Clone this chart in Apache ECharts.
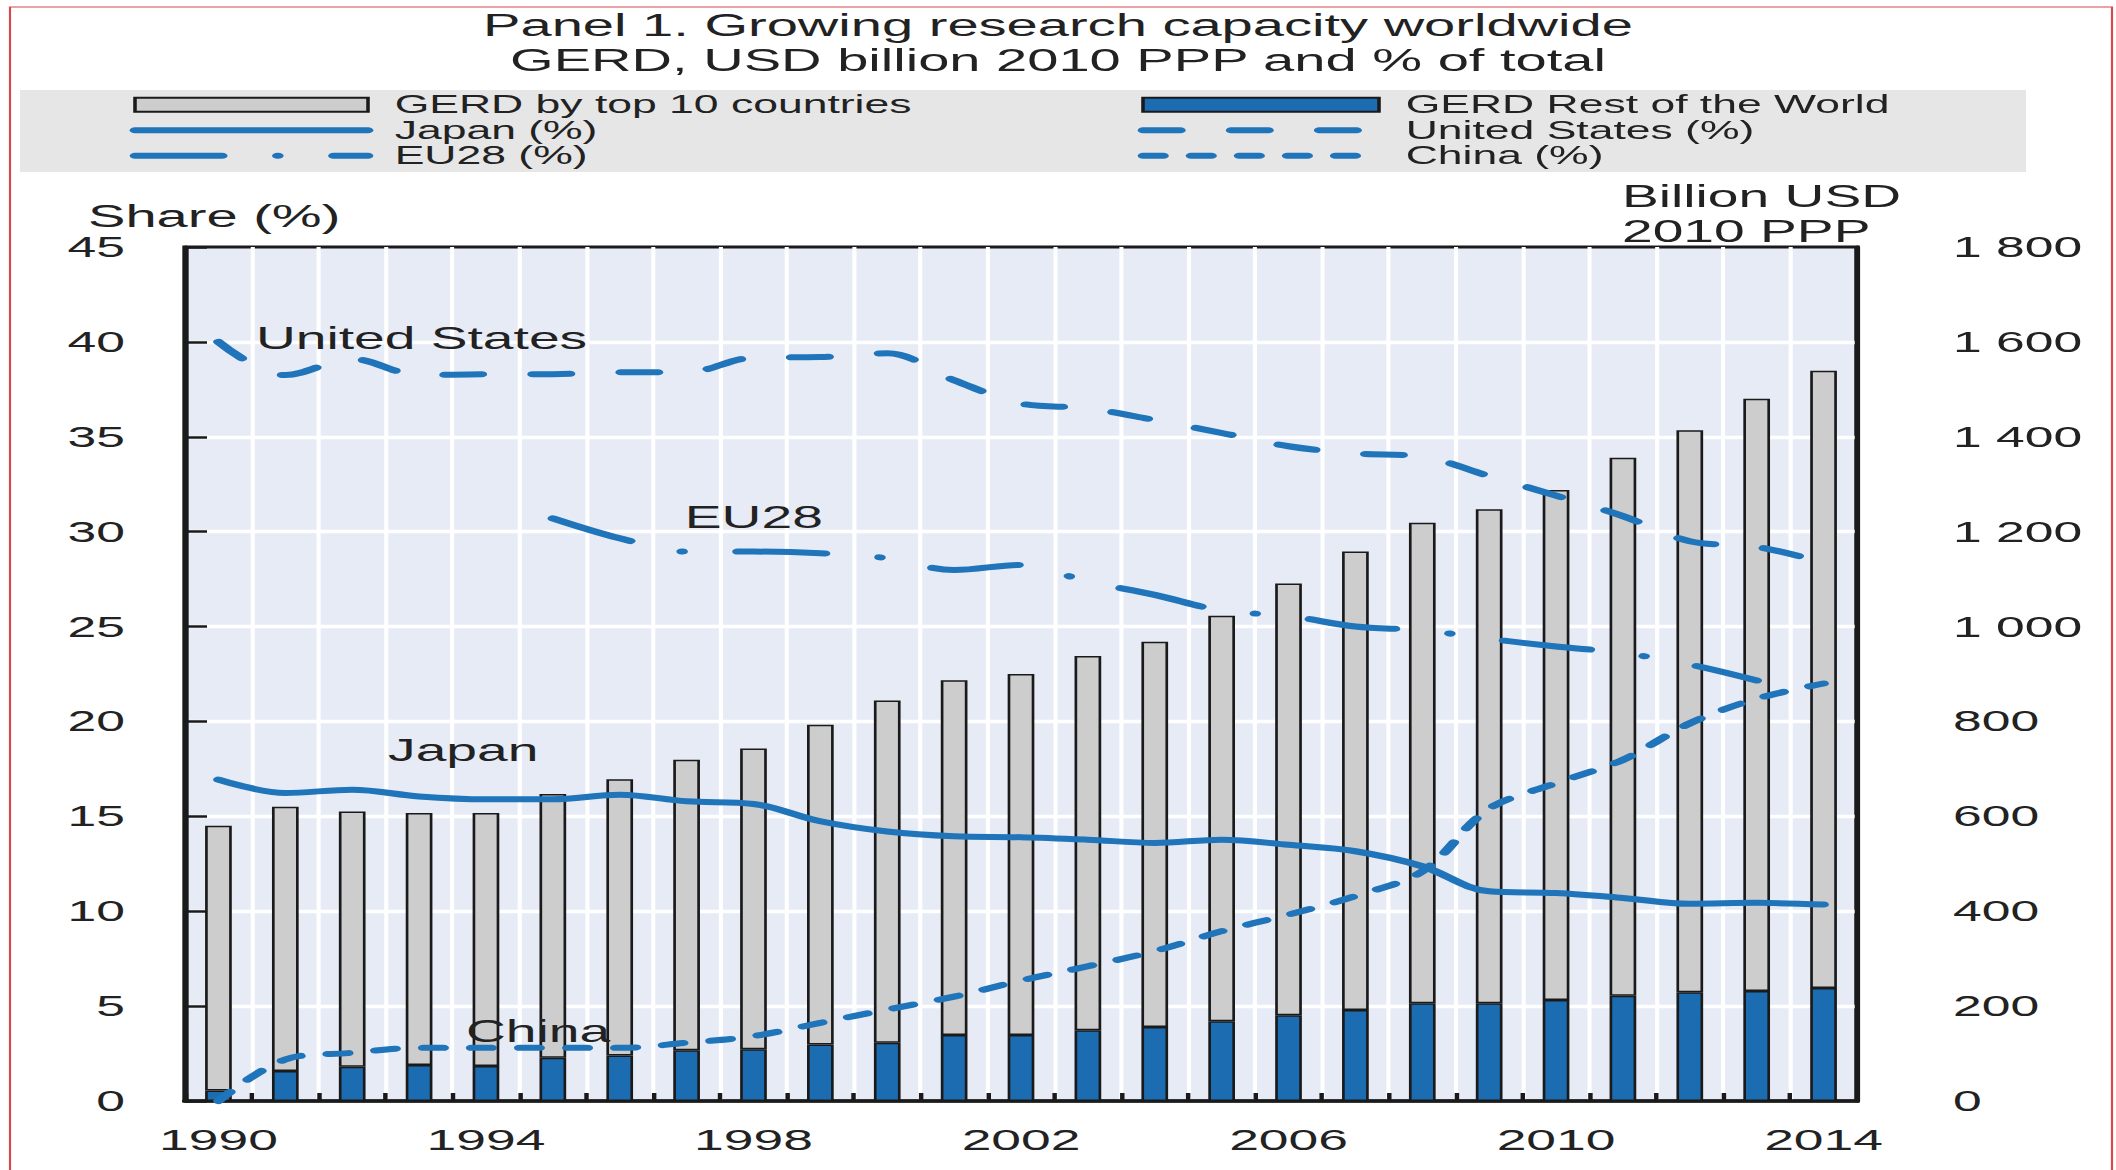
<!DOCTYPE html>
<html>
<head>
<meta charset="utf-8">
<script src="https://cdn.jsdelivr.net/npm/echarts@6/dist/echarts.min.js"></script>
<style>
html, body { margin: 0; padding: 0; background: #ffffff; overflow: hidden; }
#wrap { position: absolute; left: 0; top: 0; width: 2116px; height: 1170px; overflow: hidden; }
#chart { position: absolute; left: 0; top: 0; height: 1170px; transform-origin: 0 0; }
</style>
</head>
<body>
<div id="wrap"><div id="chart"></div></div>
<script>
// ---------------- data ----------------
const years = ['1990','1991','1992','1993','1994','1995','1996','1997','1998','1999','2000','2001','2002',
               '2003','2004','2005','2006','2007','2008','2009','2010','2011','2012','2013','2014'];

// GERD, USD billion 2010 PPP (stacked: rest of world at the bottom, top 10 above)
const gerdRestOfWorld = [22, 63, 72, 76, 74, 91, 96, 107, 109, 119, 123, 139, 139,
                         149, 156, 168, 181, 192, 206, 206, 213, 222, 229, 232, 238];
const gerdTop10 = [558, 557, 538, 531, 533, 556, 582, 612, 634, 674, 721, 748, 761,
                   789, 812, 855, 910, 966, 1013, 1041, 1075, 1134, 1185, 1248, 1301];

// Shares of world GERD (%)
const usShare = [40.0, 38.25, 39.1, 38.25, 38.3, 38.3, 38.4, 38.4, 39.17, 39.2, 39.4, 37.98, 36.75,
                 36.5, 35.88, 35.2, 34.5, 34.12, 33.95, 32.93, 31.9, 30.82, 29.5, 29.2, 28.37];
const euShare = [null, null, null, null, null, 30.7, 29.65, 28.95, 28.95, 28.86, 28.6, 27.98, 28.25,
                 27.37, 26.67, 25.84, 25.56, 25.0, 24.8, 24.35, 23.95, 23.6, 23.0, 22.16, null];
const japanShare = [16.93, 16.23, 16.4, 16.05, 15.9, 15.9, 16.14, 15.79, 15.65, 14.74, 14.2, 13.95, 13.9,
                    13.77, 13.6, 13.77, 13.5, 13.16, 12.37, 11.05, 10.96, 10.7, 10.39, 10.44, 10.35];
const chinaShare = [0, 2.19, 2.54, 2.8, 2.8, 2.8, 2.8, 3.07, 3.42, 4.12, 4.82, 5.5, 6.35,
                    7.1, 7.9, 8.95, 9.82, 10.8, 12.1, 15.4, 16.75, 17.98, 19.9, 21.2, 22.0];

// tick labels
const shareTickLabels = ['0', '5', '10', '15', '20', '25', '30', '35', '40', '45'];
const usdTickLabels = ['0', '200', '400', '600', '800', '1 000', '1 200', '1 400', '1 600', '1 800'];

// texts
const titleLine1 = 'Panel 1. Growing research capacity worldwide';
const titleLine2 = 'GERD, USD billion 2010 PPP and % of total';
const nameTop10 = 'GERD by top 10 countries';
const nameRow = 'GERD Rest of the World';
const nameJapan = 'Japan (%)';
const nameUS = 'United States (%)';
const nameEU = 'EU28 (%)';
const nameChina = 'China (%)';

// ---------------- layout (reference is horizontally stretched) ----------------
const S = 1.78;                 // horizontal stretch of the original picture
const W = 2116 / S;
const el = document.getElementById('chart');
el.style.width = W + 'px';
el.style.transform = 'scaleX(' + S + ')';

const FONT = '"Liberation Sans", Arial, Helvetica, sans-serif';
const TXT = '#222222';
const BLUE = '#1f74ba';
const BARBLUE = '#1c6cb2';
const GREY = '#cdcdcd';
const DARK = '#1a1a1a';
const LW = 6;

const chart = echarts.init(el, null, { renderer: 'svg', width: W, height: 1170 });

function annot(text, cat, val, dx) {
  return {
    symbol: 'circle', symbolSize: 1,
    itemStyle: { color: 'rgba(0,0,0,0)' },
    silent: true,
    data: [{ coord: [cat, val], value: 0 }],
    label: {
      show: true, formatter: text, position: 'inside',
      align: 'left', verticalAlign: 'middle', offset: [dx, 0],
      color: TXT, fontSize: 31, lineHeight: 31, fontFamily: FONT
    }
  };
}

function lineSeries(name, data, dash, mp) {
  const s = {
    name: name, type: 'line', yAxisIndex: 0, data: data,
    symbol: 'none', smooth: 0.35, connectNulls: false, clip: false, z: 5,
    lineStyle: { color: BLUE, width: LW, cap: 'round', join: 'round', type: dash },
    itemStyle: { color: BLUE }
  };
  if (mp) s.markPoint = mp;
  return s;
}

const noSymbol = { color: 'rgba(0,0,0,0)', borderColor: 'rgba(0,0,0,0)', borderWidth: 0, opacity: 0 };

function legendBlock(left, width, items) {
  return {
    left: left, top: 92, orient: 'vertical', padding: 0, itemGap: 0,
    itemWidth: width, itemHeight: 14, selectedMode: false,
    lineStyle: { width: LW, cap: 'round' },
    textStyle: { fontSize: 25, color: TXT, lineHeight: 25.5, fontFamily: FONT, padding: [0, 0, 0, 10] },
    data: items
  };
}

const option = {
  animation: false,
  backgroundColor: '#ffffff',
  textStyle: { fontFamily: FONT },
  title: [
    {
      text: titleLine1, subtext: titleLine2, left: 'center', top: 8, itemGap: 0, padding: 0,
      textStyle: { fontSize: 31.5, fontWeight: 'normal', color: TXT, lineHeight: 35, fontFamily: FONT },
      subtextStyle: { fontSize: 31.5, color: TXT, lineHeight: 35, fontFamily: FONT }
    },
    {
      text: 'Share (%)', left: 88 / S, top: 203, padding: 0,
      textStyle: { fontSize: 31.5, fontWeight: 'normal', color: TXT, lineHeight: 27, fontFamily: FONT }
    },
    {
      text: 'Billion USD\n2010 PPP', left: 1622 / S, top: 178, padding: 0,
      textStyle: { fontSize: 31, fontWeight: 'normal', color: TXT, lineHeight: 35, fontFamily: FONT }
    }
  ],
  graphic: [
    { type: 'rect', z: -10, shape: { x: 20 / S, y: 90, width: (2026 - 20) / S, height: 82 },
      style: { fill: '#e6e6e6' }, silent: true },
    { type: 'rect', z: -10, shape: { x: 10 / S, y: 7, width: (2112 - 10) / S, height: 1200 },
      style: { fill: 'none', stroke: '#d9474b', lineWidth: 1.2 }, silent: true }
  ],
  legend: [
    legendBlock(135 / S - 3, 233 / S, [
      { name: nameTop10, icon: 'rect' },
      { name: nameJapan, itemStyle: noSymbol },
      { name: nameEU, itemStyle: noSymbol }
    ]),
    legendBlock(1143 / S - 3, 236 / S, [
      { name: nameRow, icon: 'rect' },
      { name: nameUS, itemStyle: noSymbol },
      { name: nameChina, itemStyle: noSymbol }
    ])
  ],
  grid: {
    left: 185 / S, right: (2116 - 1857) / S, top: 247, bottom: 1170 - 1101,
    show: true, backgroundColor: '#e6ebf6', borderColor: DARK, borderWidth: 3,
    containLabel: false
  },
  xAxis: {
    type: 'category', data: years, boundaryGap: true,
    axisLine: { show: true, lineStyle: { color: DARK, width: 3.5 } },
    axisTick: { show: true, inside: true, length: 8, interval: 0, lineStyle: { color: DARK, width: 2.5 } },
    axisLabel: { interval: 3, margin: 24, fontSize: 30, color: TXT, fontFamily: FONT },
    splitLine: { show: true, interval: 0, showMinLine: false, showMaxLine: false,
                 lineStyle: { color: '#ffffff', width: 2.3 } }
  },
  yAxis: [
    {
      type: 'value', position: 'left', min: 0, max: 45, interval: 5,
      axisLine: { show: true, lineStyle: { color: DARK, width: 3 } },
      axisTick: { show: true, inside: true, length: 22 / S, lineStyle: { color: DARK, width: 2.5 } },
      axisLabel: { margin: 60 / S, fontSize: 29, lineHeight: 24, color: TXT, fontFamily: FONT,
                   formatter: v => shareTickLabels[Math.round(v / 5)] },
      splitLine: { show: true, showMinLine: false, showMaxLine: false,
                   lineStyle: { color: '#ffffff', width: 3.3 } }
    },
    {
      type: 'value', position: 'right', min: 0, max: 1800, interval: 200,
      axisLine: { show: true, lineStyle: { color: DARK, width: 3 } },
      axisTick: { show: false },
      axisLabel: { margin: 96 / S, fontSize: 29, lineHeight: 24, color: TXT, fontFamily: FONT,
                   formatter: v => usdTickLabels[Math.round(v / 200)] },
      splitLine: { show: false }
    }
  ],
  series: [
    {
      name: nameRow, type: 'bar', yAxisIndex: 1, stack: 'gerd', data: gerdRestOfWorld,
      barWidth: 15, z: 2,
      itemStyle: { color: BARBLUE, borderColor: DARK, borderWidth: 1.5 }
    },
    {
      name: nameTop10, type: 'bar', yAxisIndex: 1, stack: 'gerd', data: gerdTop10,
      barWidth: 15, z: 2,
      itemStyle: { color: GREY, borderColor: DARK, borderWidth: 1.5 }
    },
    lineSeries(nameJapan, japanShare, 'solid', annot('Japan', '1993', 18.5, (388 - 419) / S)),
    lineSeries(nameUS, usShare, [21, 28.5], annot('United States', '1991', 40.2, (256 - 285.4) / S)),
    lineSeries(nameEU, euShare, [49, 31, 0.5, 31], annot('EU28', '1997', 30.8, (685 - 686.8) / S)),
    lineSeries(nameChina, chinaShare, [11.5, 15.5], annot('China', '1994', 3.69, (466 - 486) / S))
  ]
};

chart.setOption(option);
</script>
</body>
</html>
